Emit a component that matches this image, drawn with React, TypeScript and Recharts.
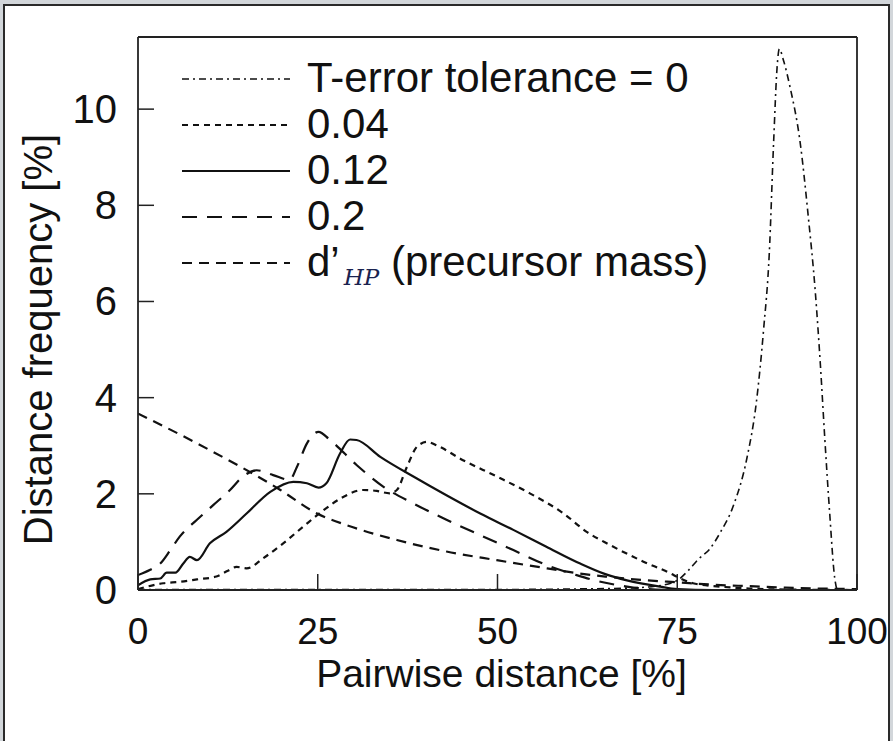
import React from 'react';
import { LineChart, Line, XAxis, YAxis, Legend } from 'recharts';

const W = 893;
const H = 741;
const FONT = '"Liberation Sans", Arial, Helvetica, sans-serif';
const INK = '#111111';
const AXIS = '#222222';

const xTicks = [0, 25, 50, 75, 100];
const yTicks = [0, 2, 4, 6, 8, 10];

// T-error tolerance = 0
const tol0X = [0, 10, 20, 30, 40, 50, 60, 68, 72, 75, 76.5, 78, 79.5, 81, 82.8, 84.7, 86, 87, 87.8, 88.4, 88.9, 89.2, 89.8, 90.7, 92.1, 93.2, 94.2, 94.9, 95.5, 96.2, 96.9, 97.3, 100];
const tol0Y = [0.01, 0.01, 0.01, 0.01, 0.01, 0.01, 0.02, 0.04, 0.08, 0.2, 0.4, 0.65, 0.85, 1.2, 1.75, 2.75, 3.9, 5.4, 7.0, 9.3, 10.9, 11.25, 11.0, 10.45, 9.3, 7.8, 6.2, 4.7, 3.2, 1.6, 0.25, 0.0, 0.0];

// 0.04
const tol004X = [0, 3.5, 5.8, 8.2, 10.9, 12.5, 13.7, 15.1, 17.4, 20.2, 23, 25.8, 28.6, 31.3, 33.2, 35, 36, 37.4, 38.8, 40.2, 41.5, 45.2, 49.9, 54.5, 59.2, 62.4, 65.6, 70.3, 74, 75.4, 77.2, 81, 85, 90, 100];
const tol004Y = [0.02, 0.14, 0.17, 0.22, 0.28, 0.4, 0.48, 0.45, 0.66, 0.97, 1.32, 1.66, 1.94, 2.08, 2.06, 2.01, 2.08, 2.56, 2.98, 3.08, 3.01, 2.7, 2.36, 2.01, 1.59, 1.21, 0.94, 0.59, 0.35, 0.24, 0.14, 0.07, 0.03, 0.01, 0];

// 0.12
const tol012X = [0, 1.7, 3.1, 4, 5.2, 6.3, 7.2, 8.2, 10, 12.3, 15.1, 18.4, 21.6, 23.5, 25.1, 26.2, 28.1, 29.5, 30.4, 33.7, 38.3, 42.9, 47.6, 52.2, 56.8, 61.5, 65, 68, 72.6, 75, 80, 100];
const tol012Y = [0.1, 0.22, 0.24, 0.36, 0.36, 0.55, 0.69, 0.62, 0.97, 1.21, 1.59, 2.04, 2.25, 2.22, 2.13, 2.22, 2.84, 3.13, 3.12, 2.77, 2.36, 1.97, 1.59, 1.25, 0.9, 0.55, 0.33, 0.2, 0.07, 0.02, 0, 0];

// 0.2
const tol02X = [0, 1.7, 3.1, 4.5, 5.8, 8.2, 10.5, 12.8, 14.6, 16.5, 18.8, 21.1, 22.1, 23.5, 25.1, 26.7, 30.4, 34.1, 38.3, 42.9, 47.6, 52.2, 56.8, 61, 63.3, 68, 72, 76, 100];
const tol02Y = [0.31, 0.42, 0.55, 0.83, 1.11, 1.46, 1.77, 2.08, 2.36, 2.49, 2.39, 2.29, 2.56, 3.05, 3.29, 3.12, 2.6, 2.15, 1.8, 1.46, 1.14, 0.83, 0.52, 0.31, 0.21, 0.07, 0.01, 0, 0];

// d'_HP (precursor mass)
const hpX = [0, 8.2, 19.8, 24.9, 29, 36, 42.9, 49.9, 56.9, 61, 65, 70, 75, 80, 85, 90, 95, 100];
const hpY = [3.67, 3.05, 2.08, 1.59, 1.35, 1.04, 0.8, 0.62, 0.45, 0.35, 0.28, 0.21, 0.16, 0.11, 0.08, 0.05, 0.03, 0.02];

const zip = (xs: number[], ys: number[]) => xs.map((x, i) => ({ x, y: ys[i] }));

const series = [
  { key: 't0', name: 'T-error tolerance = 0', data: zip(tol0X, tol0Y), dash: '7 4 2 4', width: 1.6 },
  { key: 't004', name: '0.04', data: zip(tol004X, tol004Y), dash: '6 5', width: 2.2 },
  { key: 't012', name: '0.12', data: zip(tol012X, tol012Y), dash: undefined as string | undefined, width: 2.2 },
  { key: 't02', name: '0.2', data: zip(tol02X, tol02Y), dash: '15 10', width: 2.2 },
  { key: 'hp', name: "d’HP (precursor mass)", data: zip(hpX, hpY), dash: '10 7', width: 2.2 },
];

const YTick = (props: any) => {
  const { x, y, payload } = props;
  return (
    <g>
      <line x1={x} x2={x + 16} y1={y} y2={y} stroke={AXIS} strokeWidth={1.5} />
      <text x={x - 21} y={y + 14} textAnchor="end" fontSize={40} fontFamily={FONT} fill={INK}>
        {payload.value}
      </text>
    </g>
  );
};

const XTick = (props: any) => {
  const { x, y, payload } = props;
  return (
    <g>
      <line x1={x} x2={x} y1={y} y2={y - 16} stroke={AXIS} strokeWidth={1.5} />
      <text x={x} y={y + 54} textAnchor="middle" fontSize={37} fontFamily={FONT} fill={INK}>
        {payload.value}
      </text>
    </g>
  );
};

const XLabel = (props: any) => {
  const vb = props.viewBox || { x: 138, y: 590, width: 719, height: 1 };
  return (
    <text x={vb.x + vb.width / 2 + 4} y={vb.y + 97} textAnchor="middle" fontSize={39} fontFamily={FONT} fill={INK}>
      Pairwise distance [%]
    </text>
  );
};

const YLabel = (props: any) => {
  const vb = props.viewBox || { x: 137, y: 37, width: 1, height: 553 };
  const cx = vb.x + vb.width - 86;
  const cy = vb.y + vb.height / 2 + 26;
  return (
    <text x={cx} y={cy} transform={`rotate(-90, ${cx}, ${cy})`} textAnchor="middle" fontSize={40} fontFamily={FONT} fill={INK}>
      Distance frequency [%]
    </text>
  );
};

const LEG_X1 = 182;
const LEG_X2 = 290;
const LEG_TX = 307;
const LEG_Y0 = 77;
const LEG_DY = 46;

const renderLegend = () => (
  <svg width={W} height={300} style={{ display: 'block' }}>
    {series.map((s, i) => {
      const cy = LEG_Y0 + i * LEG_DY;
      return (
        <g key={s.key}>
          <line x1={LEG_X1} x2={LEG_X2} y1={cy + 2} y2={cy + 2} stroke={INK} strokeWidth={s.width} strokeDasharray={s.dash} />
          {s.key === 'hp' ? (
            <text x={LEG_TX} y={cy + 15} fontSize={42} fontFamily={FONT} fill={INK}>
              d’
              <tspan dx={4} dy={9} fontSize={23} fontFamily='"DejaVu Serif", "Liberation Serif", serif' fontStyle="italic" fill="#1a2350">HP</tspan>
              <tspan dy={-9} fontSize={42} fontFamily={FONT}> (precursor mass)</tspan>
            </text>
          ) : (
            <text x={LEG_TX} y={cy + 15} fontSize={42} fontFamily={FONT} fill={INK}>
              {s.name}
            </text>
          )}
        </g>
      );
    })}
  </svg>
);

export default function App() {
  return (
    <div style={{ position: 'fixed', left: 0, top: 0, width: W, height: H, background: '#d2d6da', overflow: 'hidden' }}>
      <div style={{ position: 'absolute', left: 3, top: 4, width: W - 10, height: H + 20, border: '2px solid #2a2a2a', background: '#ffffff' }} />
      <div style={{ position: 'absolute', left: 0, top: 0 }}>
        <LineChart width={W} height={H} margin={{ top: 36, right: 35, bottom: 150, left: 137 }}>
          <XAxis
            dataKey="x"
            type="number"
            domain={[0, 100]}
            ticks={xTicks}
            height={1}
            tickSize={0}
            tickMargin={0}
            tickLine={false}
            axisLine={{ stroke: AXIS, strokeWidth: 1.8 }}
            tick={<XTick />}
            interval={0}
            allowDataOverflow
            label={XLabel}
          />
          <XAxis xAxisId="top" orientation="top" dataKey="x" type="number" domain={[0, 100]} height={1} tick={false} tickLine={false} axisLine={{ stroke: AXIS, strokeWidth: 1.8 }} />
          <YAxis
            type="number"
            domain={[0, 11.5]}
            ticks={yTicks}
            width={1}
            tickSize={0}
            tickMargin={0}
            tickLine={false}
            axisLine={{ stroke: AXIS, strokeWidth: 1.8 }}
            tick={<YTick />}
            interval={0}
            allowDataOverflow
            label={YLabel}
          />
          <YAxis yAxisId="right" orientation="right" type="number" domain={[0, 11.5]} width={1} tick={false} tickLine={false} axisLine={{ stroke: AXIS, strokeWidth: 1.8 }} />
          <Legend layout="vertical" align="center" verticalAlign="middle" wrapperStyle={{ left: 0, top: 0, width: W, height: 300 }} content={renderLegend} />
          {series.map((s) => (
            <Line
              key={s.key}
              data={s.data}
              dataKey="y"
              name={s.name}
              type="monotone"
              stroke={INK}
              strokeWidth={s.width}
              strokeDasharray={s.dash}
              dot={false}
              activeDot={false}
              isAnimationActive={false}
            />
          ))}
        </LineChart>
      </div>
    </div>
  );
}
